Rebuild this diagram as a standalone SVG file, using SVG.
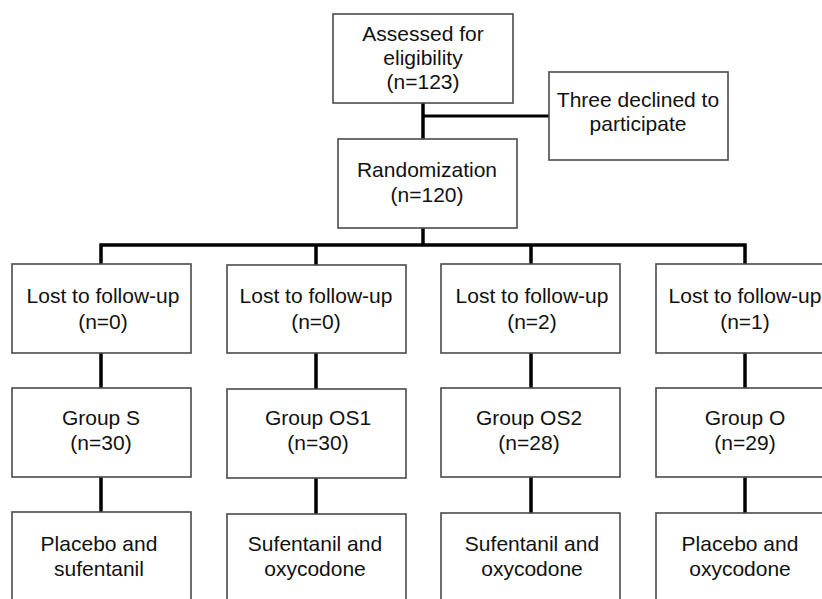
<svg xmlns="http://www.w3.org/2000/svg" width="822" height="599" viewBox="0 0 822 599">
<style>
.box{fill:#fff;stroke:#4a4a4a;stroke-width:1.6}
.t{font-family:"Liberation Sans",Arial,sans-serif;font-size:21px;fill:#111;text-anchor:middle}
.c{stroke:#000;stroke-width:3.5;fill:none}
</style>
<rect width="822" height="599" fill="#fff"/>
<g id="connectors">
<line class="c" x1="423" y1="103" x2="423" y2="139"/>
<line class="c" x1="423" y1="116" x2="549" y2="116" style="stroke-width:3"/>
<line class="c" x1="423" y1="228" x2="423" y2="246"/>
<polyline class="c" points="101,264 101,245 745,245 745,264"/>
<line class="c" x1="316" y1="245" x2="316" y2="265"/>
<line class="c" x1="531" y1="245" x2="531" y2="264"/>
<line class="c" x1="101" y1="353" x2="101" y2="388"/>
<line class="c" x1="316" y1="353" x2="316" y2="389"/>
<line class="c" x1="531" y1="353" x2="531" y2="388"/>
<line class="c" x1="745" y1="353" x2="745" y2="388"/>
<line class="c" x1="101" y1="477" x2="101" y2="512"/>
<line class="c" x1="316" y1="478" x2="316" y2="514"/>
<line class="c" x1="531" y1="477" x2="531" y2="513"/>
<line class="c" x1="745" y1="477" x2="745" y2="513"/>
</g>
<g id="assessed"><rect class="box" x="333" y="14" width="180" height="89"/>
<text class="t" x="423" y="41">Assessed for</text><text class="t" x="423" y="65">eligibility</text><text class="t" x="423" y="89">(n=123)</text></g>
<g id="declined"><rect class="box" x="549" y="72" width="179" height="88"/>
<text class="t" x="638" y="107">Three declined to</text><text class="t" x="638" y="131">participate</text></g>
<g id="randomization"><rect class="box" x="338" y="139" width="179" height="89"/>
<text class="t" x="427" y="177">Randomization</text><text class="t" x="427" y="202">(n=120)</text></g>
<g id="lost1"><rect class="box" x="12" y="264" width="179" height="89"/>
<text class="t" x="103" y="303">Lost to follow-up</text><text class="t" x="103" y="329">(n=0)</text></g>
<g id="lost2"><rect class="box" x="227" y="265" width="179" height="88"/>
<text class="t" x="316" y="303">Lost to follow-up</text><text class="t" x="316" y="329">(n=0)</text></g>
<g id="lost3"><rect class="box" x="441" y="264" width="179" height="89"/>
<text class="t" x="532" y="303">Lost to follow-up</text><text class="t" x="532" y="329">(n=2)</text></g>
<g id="lost4"><rect class="box" x="656" y="264" width="179" height="89"/>
<text class="t" x="745" y="303">Lost to follow-up</text><text class="t" x="745" y="329">(n=1)</text></g>
<g id="groupS"><rect class="box" x="12" y="388" width="179" height="89"/>
<text class="t" x="101" y="425">Group S</text><text class="t" x="101" y="450">(n=30)</text></g>
<g id="groupOS1"><rect class="box" x="227" y="389" width="179" height="89"/>
<text class="t" x="318" y="425">Group OS1</text><text class="t" x="318" y="450">(n=30)</text></g>
<g id="groupOS2"><rect class="box" x="441" y="388" width="179" height="89"/>
<text class="t" x="529" y="425">Group OS2</text><text class="t" x="529" y="450">(n=28)</text></g>
<g id="groupO"><rect class="box" x="656" y="388" width="179" height="89"/>
<text class="t" x="745" y="425">Group O</text><text class="t" x="745" y="450">(n=29)</text></g>
<g id="placeboS"><rect class="box" x="12" y="512" width="179" height="100"/>
<text class="t" x="99" y="551">Placebo and</text><text class="t" x="99" y="576">sufentanil</text></g>
<g id="sufOxy1"><rect class="box" x="227" y="514" width="179" height="100"/>
<text class="t" x="315" y="551">Sufentanil and</text><text class="t" x="315" y="576">oxycodone</text></g>
<g id="sufOxy2"><rect class="box" x="441" y="513" width="179" height="100"/>
<text class="t" x="532" y="551">Sufentanil and</text><text class="t" x="532" y="576">oxycodone</text></g>
<g id="placeboO"><rect class="box" x="656" y="513" width="179" height="100"/>
<text class="t" x="740" y="551">Placebo and</text><text class="t" x="740" y="576">oxycodone</text></g>
</svg>
